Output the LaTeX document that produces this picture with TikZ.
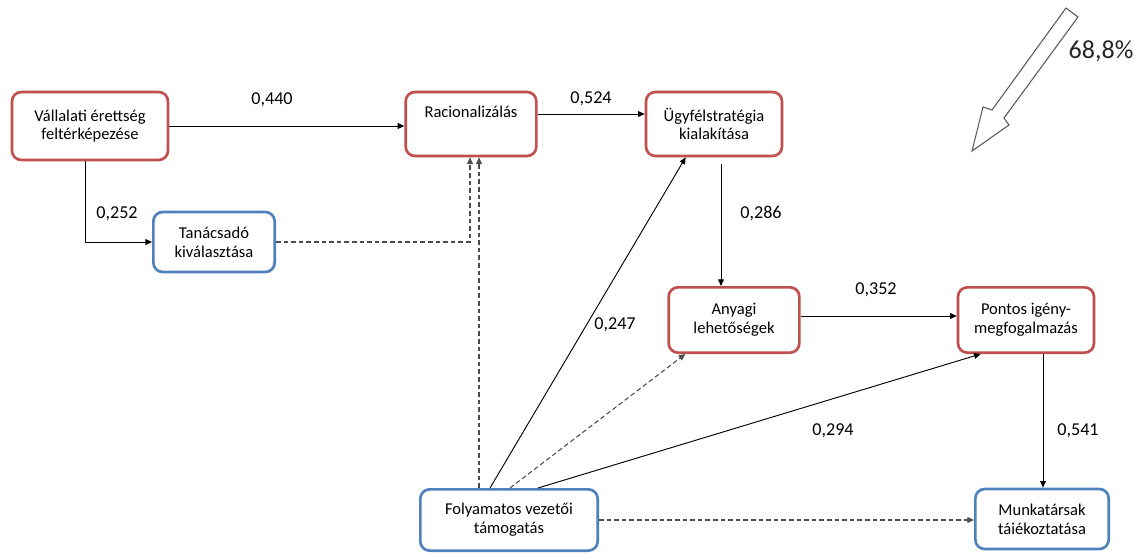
\documentclass[tikz,border=0pt]{standalone}
\usepackage{fontspec}
\setmainfont{Carlito}
\usetikzlibrary{positioning,calc,arrows.meta}
\definecolor{boxred}{RGB}{192,80,77}
\definecolor{boxblue}{RGB}{79,129,189}
\tikzset{
  arr/.style      = {line width=0.7pt, -{Triangle[length=5pt,width=4.4pt]}},
  darr/.style     = {arr, line width=0.8pt, draw=black!70,
                    dash pattern=on 3.5pt off 2.2pt},
  redbox/.style   = {draw=boxred, line width=2pt, fill=white, rounded corners=7pt,
                    align=center, inner sep=2pt,
                    font=\fontsize{12.4}{14}\selectfont},
  bluebox/.style  = {redbox, draw=boxblue},
  lbl/.style      = {font=\fontsize{13.6}{15}\selectfont, inner sep=1pt},
}
\begin{document}
\begin{tikzpicture}[x=0.75pt,y=-0.75pt]
  \useasboundingbox (0,0) rectangle (1140,554);
  % boxes
  \node[redbox, minimum width=117pt, minimum height=51pt] (vall) at (90,126)
    {Vállalati érettség\\feltérképezése};
  \node[redbox, minimum width=98pt, minimum height=48pt] (rac) at (471,124)
    {Racionalizálás\\\strut};
  \node[redbox, minimum width=102pt, minimum height=48pt] (ugyf) at (714,124)
    {Ügyfélstratégia\\kialakítása};
  \node[bluebox, minimum width=91pt, minimum height=45pt] (tan) at (214,242)
    {Tanácsadó\\kiválasztása};
  \node[redbox, minimum width=98pt, minimum height=49pt] (anyagi) at (734,320)
    {Anyagi\\lehetőségek};
  \node[redbox, minimum width=102pt, minimum height=49pt] (pontos) at (1026,320)
    {Pontos igény-\\megfogalmazás};
  \node[bluebox, minimum width=133pt, minimum height=46pt] (foly) at (509,520)
    {Folyamatos vezetői\\támogatás};
  \node[bluebox, minimum width=100pt, minimum height=45pt] (munk) at (1042,519)
    {Munkatársak\\táiékoztatása};
  % connectors
  \draw[arr] (vall.east) -- (vall.east -| rac.west);
  \draw[arr] ($(vall.south)+(-5,0)$) |- (tan.west);
  \draw[darr] (tan.east) -| ($(rac.south)+(-1,0)$);
  \draw[darr] ($(foly.north)+(-30,0)$) -- ($(rac.south)+(8,0)$);
  \draw[arr] ($(rac.east)+(0,-10)$) -- ($(ugyf.west)+(0,-10)$);
  \draw[arr] ($(ugyf.south)+(7,7)$) -- ($(anyagi.north)+(-13,0)$);
  \draw[arr] ($(foly.north)+(-19,0)$) -- ($(ugyf.south west)+(41,0)$);
  \draw[darr] ($(foly.north)+(1,0)$) -- ($(anyagi.south west)+(18,0)$);
  \draw[arr] ($(foly.north)+(29,0)$) -- ($(pontos.south west)+(24,0)$);
  \draw[arr] ($(anyagi.east)+(0,-4)$) -- ($(pontos.west)+(0,-4)$);
  \draw[arr] ($(pontos.south)+(17,0)$) -- ($(munk.north)+(1,0)$);
  \draw[darr] (foly.east) -- (foly.east -| munk.west);
  % labels
  \node[lbl] (l440) at (272,100) {0,440};
  \node[lbl] (l252) at (117,214) {0,252};
  \node[lbl] (l524) at (591,99) {0,524};
  \node[lbl] (l286) at (761,213) {0,286};
  \node[lbl] (l352) at (876,290) {0,352};
  \node[lbl] (l247) at (615,325) {0,247};
  \node[lbl] (l294) at (833,431) {0,294};
  \node[lbl] (l541) at (1078,431) {0,541};
  % big hollow arrow
  \draw[line width=0.8pt, draw=black!65, fill=white, line join=miter]
    (1066,8) -- (1078,17) -- (1004,118) -- (1009,125) -- (972,151)
    -- (983,107) -- (992,110) -- cycle;
  \node[lbl, font=\fontsize{19.5}{22}\selectfont, text=black!85] (pct) at (1101,51) {68,8\%};
\end{tikzpicture}
\end{document}
